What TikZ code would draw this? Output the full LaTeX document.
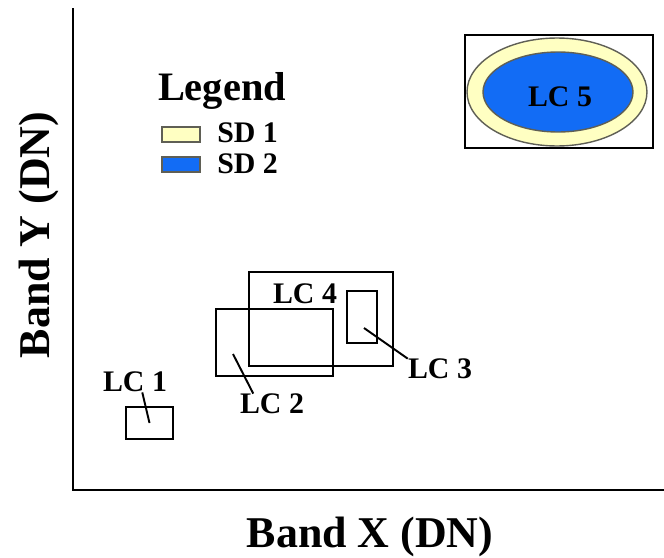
\documentclass[tikz,border=0pt]{standalone}
\usepackage{fontspec}
\setmainfont{Liberation Serif}
\usetikzlibrary{positioning, shapes.geometric, fit}
\definecolor{sdone}{RGB}{255,255,194}
\definecolor{sdtwo}{RGB}{18,108,245}
\definecolor{rim}{RGB}{95,95,85}

\tikzset{
  lcbox/.style={draw=black, line width=1.1pt, inner sep=0pt},
  lclabel/.style={font=\fontsize{17}{17}\selectfont\bfseries, inner sep=0pt},
  axislabel/.style={font=\fontsize{25}{25}\selectfont\bfseries, inner sep=0pt, anchor=base},
  leader/.style={line width=1.1pt},
  swatch/.style={draw=rim, line width=0.8pt, inner sep=0pt}
}

\begin{document}
\begin{tikzpicture}[x=0.02cm, y=-0.02cm]
    \useasboundingbox (0,0) rectangle (664,558);

    % axes
    \coordinate (ytop) at (73,8);
    \coordinate (origin) at (73,490);
    \coordinate (xend) at (664,490);
    \draw[line width=1.1pt] (ytop) -- (origin) -- (xend);
    \node[axislabel] (xlabel) at (370,547) {Band X (DN)};
    \node[axislabel, rotate=90] (ylabel) at (50,235) {Band Y (DN)};

    % legend
    \node[font=\fontsize{23}{23}\selectfont\bfseries, inner sep=0pt, anchor=base] (legend) at (222,100) {Legend};
    \node[swatch, fill=sdone, fit={(162,127) (200,142)}] (sw1) {};
    \node[swatch, fill=sdtwo, fit={(162,157) (200,172)}] (sw2) {};
    \node[lclabel, anchor=base west] (sd1) at (217,142) {SD 1};
    \node[lclabel, anchor=base west] (sd2) at (217,173) {SD 2};

    % LC 5 with its two standard deviations
    \node[lcbox, fit={(465,35) (653,148)}] (box5) {};
    \node[ellipse, draw=rim, line width=0.8pt, fill=sdone, minimum width=3.6cm, minimum height=2.16cm] (ell1) at (557,92) {};
    \node[ellipse, draw=rim, line width=0.8pt, fill=sdtwo, minimum width=3cm, minimum height=1.6cm] (ell2) at (558,92) {};
    \node[lclabel] (lc5) at (560,97) {LC 5};

    % LC 1 - LC 4 boxes
    \node[lcbox, fit={(249,272) (393,366)}] (box4) {};
    \node[lcbox, fit={(216,309) (333,376)}] (box2) {};
    \node[lcbox, fit={(347,291) (377,343)}] (box3) {};
    \node[lcbox, fit={(126,407) (173,439)}] (box1) {};

    \node[lclabel] (lc1) at (135,382) {LC 1};
    \node[lclabel] (lc2) at (272,404) {LC 2};
    \node[lclabel] (lc3) at (440,369) {LC 3};
    \node[lclabel] (lc4) at (305,294) {LC 4};

    \coordinate (in2) at (233,354);
    \coordinate (in3) at (364,328);
    \draw[leader] (lc1.-55) -- (box1.center);
    \draw[leader] (lc2.151) -- (in2);
    \draw[leader] (lc3.north west) -- (in3);
\end{tikzpicture}
\end{document}
